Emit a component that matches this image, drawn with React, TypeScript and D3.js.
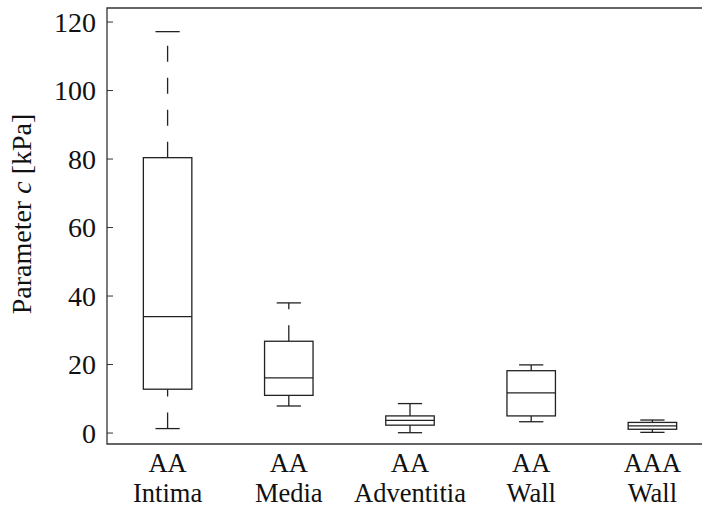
import React from "react";
import * as d3 from "d3";

// Box-plot summaries of the fitted parameter c (kPa) per tissue group
const groupTop = ["AA", "AA", "AA", "AA", "AAA"];
const groupBottom = ["Intima", "Media", "Adventitia", "Wall", "Wall"];
const whiskerLow = [1.3, 7.9, 0.1, 3.3, 0.2];
const quartile1 = [12.8, 11.0, 2.3, 5.0, 1.1];
const medians = [34.0, 16.1, 3.7, 11.7, 2.1];
const quartile3 = [80.4, 26.8, 5.0, 18.2, 3.1];
const whiskerHigh = [117.2, 38.0, 8.6, 19.9, 3.8];
const yTicks = [0, 20, 40, 60, 80, 100, 120];

const W = 702;
const H = 509;
const FONT = "Liberation Serif, Times New Roman, Times, serif";
const INK = "#222";

export default function App() {
  const left = 107;
  const top = 8;
  const bottom = 444;
  const x = d3.scaleLinear().domain([0.5, 5.5]).range([left, 713]);
  const y = d3.scaleLinear().domain([-3.2, 124.1]).range([bottom, top]);
  const step = x(2) - x(1);
  const boxW = step * 0.4;
  const capW = step * 0.2;

  const rows = groupTop.map((g, i) => ({
    top: g,
    bottom: groupBottom[i],
    lo: whiskerLow[i],
    q1: quartile1[i],
    med: medians[i],
    q3: quartile3[i],
    hi: whiskerHigh[i],
    cx: x(i + 1),
  }));

  const textStyle = { fontFamily: FONT, fontSize: 28 } as React.CSSProperties;
  const catStyle = { fontFamily: FONT, fontSize: 26.5 } as React.CSSProperties;

  return (
    <svg
      width={W}
      height={H}
      style={{ position: "absolute", left: 0, top: 0, background: "#fff" }}
    >
      {/* axes frame (open on the right) */}
      <path
        d={`M${W},${top}H${left}V${bottom}H${W}`}
        fill="none"
        stroke="#333"
        strokeWidth={1.3}
      />
      {yTicks.map((t) => (
        <g key={t}>
          <line x1={left} x2={left + 6} y1={y(t)} y2={y(t)} stroke="#333" strokeWidth={1} />
          <text x={96} y={y(t)} dy="0.35em" textAnchor="end" style={textStyle} fill="#111">
            {t}
          </text>
        </g>
      ))}
      <text
        transform={`translate(31,214) rotate(-90)`}
        textAnchor="middle"
        style={textStyle}
        fill="#111"
      >
        Parameter <tspan fontStyle="italic">c</tspan> [kPa]
      </text>

      {rows.map((r, i) => (
        <g key={i} stroke={INK} strokeWidth={1.3} fill="none">
          {/* whiskers, dashed from the lower value upward */}
          <line x1={r.cx} x2={r.cx} y1={y(r.lo)} y2={y(r.q1)} strokeDasharray="16,16" />
          <line x1={r.cx} x2={r.cx} y1={y(r.q3)} y2={y(r.hi)} strokeDasharray="16,16" />
          <line x1={r.cx - capW / 2} x2={r.cx + capW / 2} y1={y(r.lo)} y2={y(r.lo)} />
          <line x1={r.cx - capW / 2} x2={r.cx + capW / 2} y1={y(r.hi)} y2={y(r.hi)} />
          <rect x={r.cx - boxW / 2} y={y(r.q3)} width={boxW} height={y(r.q1) - y(r.q3)} />
          <line x1={r.cx - boxW / 2} x2={r.cx + boxW / 2} y1={y(r.med)} y2={y(r.med)} />
          {/* two-line category label */}
          <text x={r.cx} y={472} textAnchor="middle" style={catStyle} fill="#111" stroke="none">
            {r.top}
          </text>
          <text x={r.cx} y={501.5} textAnchor="middle" style={catStyle} fill="#111" stroke="none">
            {r.bottom}
          </text>
        </g>
      ))}
    </svg>
  );
}
